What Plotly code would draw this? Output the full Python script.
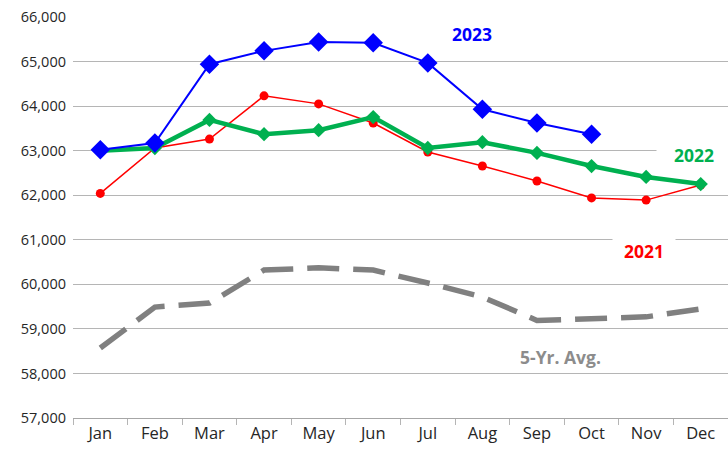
import plotly.graph_objects as go

months = ["Jan", "Feb", "Mar", "Apr", "May", "Jun",
          "Jul", "Aug", "Sep", "Oct", "Nov", "Dec"]

y2023 = [63020, 63170, 64940, 65240, 65440, 65420, 64970, 63930, 63620, 63370]
y2022 = [63000, 63060, 63690, 63370, 63460, 63755, 63060, 63190, 62950, 62655, 62410, 62250]
y2021 = [62040, 63060, 63260, 64230, 64050, 63620, 62970, 62655, 62320, 61940, 61890, 62230]
avg5 = [58570, 59490, 59580, 60320, 60370, 60320, 60030, 59715, 59190, 59220, 59270, 59450]

y_ticks = list(range(57000, 66001, 1000))

FONT = "Open Sans"

fig = go.Figure()

fig.add_trace(go.Scatter(
    x=months, y=avg5, mode="lines",
    line=dict(color="#808080", width=5.5, dash="32px,14px"),
    hoverinfo="skip", showlegend=False))

fig.add_trace(go.Scatter(
    x=months, y=y2021, mode="lines+markers",
    line=dict(color="#ff0000", width=1.5),
    marker=dict(symbol="circle", size=9, color="#ff0000"),
    hoverinfo="skip", showlegend=False))

fig.add_trace(go.Scatter(
    x=months, y=y2022, mode="lines+markers",
    line=dict(color="#00b050", width=4.5),
    marker=dict(symbol="diamond", size=11, color="#00b050"),
    hoverinfo="skip", showlegend=False))

fig.add_trace(go.Scatter(
    x=months[:len(y2023)], y=y2023, mode="lines+markers",
    line=dict(color="#0000ff", width=2),
    marker=dict(symbol="diamond", size=15, color="#0000ff"),
    hoverinfo="skip", showlegend=False))

# Series labels; the boxed ones carry a white background that breaks the gridline behind them
labels = [
    dict(text="2023", x=6.81, y=65615, color="#0000ff", w=60, h=40),
    dict(text="2022", x=10.88, y=62900, color="#00b050", w=72, h=24),
    dict(text="2021", x=9.96, y=60745, color="#ff0000", w=60, h=32),
    dict(text="5-Yr. Avg.", x=8.44, y=58370, color="#8c8c8c", w=None, h=None),
]
for lab in labels:
    ann = dict(
        text=f"<b>{lab['text']}</b>", x=lab["x"], y=lab["y"],
        xref="x", yref="y", showarrow=False,
        font=dict(family=FONT, size=17.5, color=lab["color"]),
        xanchor="center", yanchor="middle")
    if lab["w"]:
        ann.update(width=lab["w"], height=lab["h"], bgcolor="white")
    fig.add_annotation(**ann)

fig.update_layout(
    width=728, height=456,
    margin=dict(l=73, r=0, t=17, b=38),
    paper_bgcolor="white", plot_bgcolor="white",
    font=dict(family=FONT, color="#262626"),
    showlegend=False,
)

fig.update_xaxes(
    type="category", range=[-0.5, 11.5],
    tickson="boundaries", ticks="outside", ticklen=6,
    tickcolor="#b5b5b5", showline=True, linecolor="#a6a6a6", linewidth=1,
    showgrid=False, tickfont=dict(size=16.5, family=FONT, color="#262626"),
    fixedrange=True,
)

fig.update_yaxes(
    range=[57000, 66000], tickvals=y_ticks,
    ticktext=[f"{v:,}" for v in y_ticks],
    showgrid=True, gridcolor="#b5b5b5", gridwidth=1,
    zeroline=False, showline=False, ticks="",
    tickfont=dict(size=14.5, family=FONT, color="#262626"),
    ticklabelstandoff=6, fixedrange=True,
)

fig.write_html("out.html")
